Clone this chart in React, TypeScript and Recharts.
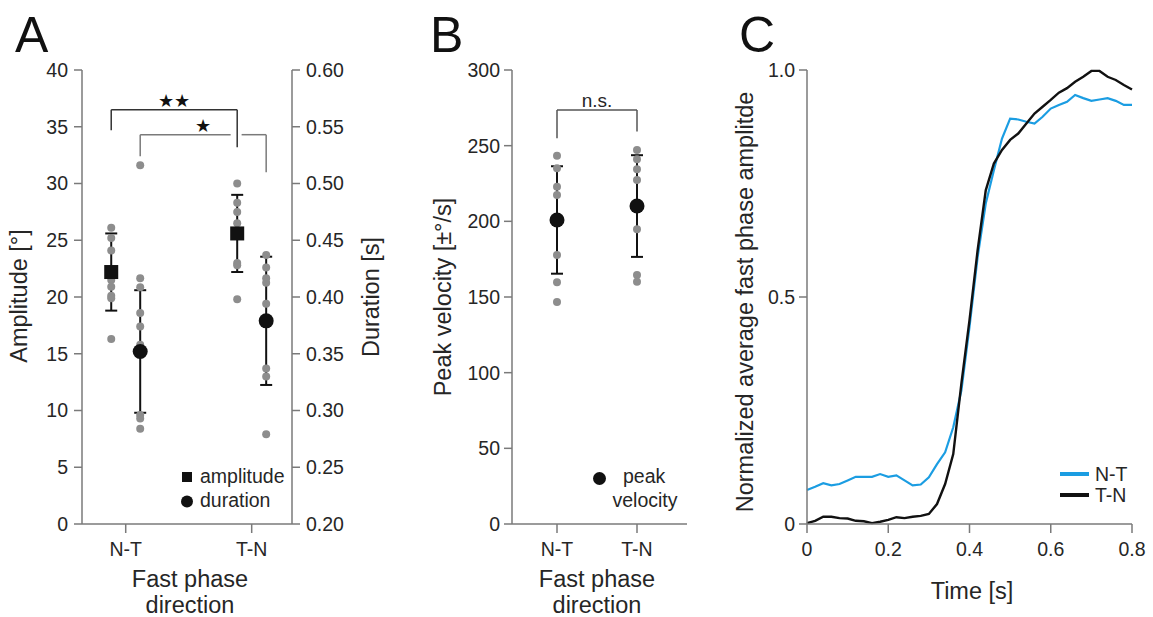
import React from "react";
import {
  ScatterChart,
  Scatter,
  XAxis,
  YAxis,
  ErrorBar,
  ReferenceLine,
  ReferenceDot,
  LineChart,
  Line,
} from "recharts";

const FONT = '"Liberation Sans", Arial, Helvetica, sans-serif';

const directions = ["N-T", "T-N"];

// panel A: amplitude (deg, left axis) and duration (s, right axis)
const ampTicks = [0, 5, 10, 15, 20, 25, 30, 35, 40];
const durTicks = [0.2, 0.25, 0.3, 0.35, 0.4, 0.45, 0.5, 0.55, 0.6];
const ampNT = [26.1, 25.2, 24.1, 21.5, 20.9, 20.1, 19.9, 16.3];
const ampTN = [30.0, 28.3, 27.5, 26.5, 23.0, 22.8, 19.8];
const durNT = [0.516, 0.4165, 0.4085, 0.386, 0.374, 0.358, 0.296, 0.293, 0.284];
const durTN = [0.437, 0.426, 0.4165, 0.4125, 0.394, 0.337, 0.33, 0.279];
const ampMean = [22.2, 25.6];
const ampSd = [3.4, 3.4];
const durMean = [0.352, 0.379];
const durSd = [0.054, 0.0565];

// panel B: peak velocity
const velTicks = [0, 50, 100, 150, 200, 250, 300];
const velNT = [243.4, 235, 222.9, 217.4, 177.7, 159.7, 146.7];
const velTN = [247.1, 241, 234.4, 227.3, 194.7, 164.5, 160.1];
const velMean = [200.9, 210.1];
const velSd = [35.5, 33.6];

// panel C: normalized average fast phase traces
const timeS = [
  0, 0.02, 0.04, 0.06, 0.08, 0.1, 0.12, 0.14, 0.16, 0.18, 0.2, 0.22, 0.24, 0.26,
  0.28, 0.3, 0.32, 0.34, 0.36, 0.38, 0.4, 0.42, 0.44, 0.46, 0.48, 0.5, 0.52, 0.54,
  0.56, 0.58, 0.6, 0.62, 0.64, 0.66, 0.68, 0.7, 0.72, 0.74, 0.76, 0.78, 0.8,
];
const ntTrace = [
  0.075, 0.082, 0.09, 0.085, 0.088, 0.096, 0.104, 0.104, 0.104, 0.11, 0.104, 0.107,
  0.096, 0.085, 0.087, 0.103, 0.132, 0.158, 0.213, 0.294, 0.434, 0.588, 0.706, 0.779,
  0.849, 0.893, 0.891, 0.886, 0.882, 0.897, 0.915, 0.923, 0.93, 0.945, 0.938, 0.932,
  0.935, 0.938, 0.932, 0.923, 0.923,
];
const tnTrace = [
  0.002, 0.007, 0.016, 0.016, 0.013, 0.012, 0.007, 0.006, 0.002, 0.005, 0.009, 0.015,
  0.013, 0.016, 0.018, 0.022, 0.044, 0.088, 0.154, 0.309, 0.449, 0.603, 0.735, 0.794,
  0.824, 0.846, 0.86, 0.882, 0.904, 0.919, 0.934, 0.95, 0.96, 0.974, 0.985, 0.998,
  0.998, 0.985, 0.978, 0.967, 0.957,
];
const timeTicks = [0, 0.2, 0.4, 0.6, 0.8];
const normTicks = [0, 0.5, 1];

const AMP_OFF = -0.115;
const DUR_OFF = 0.115;

const spread = (vals: number[], cat: number, off = 0) => vals.map((v) => ({ x: cat + off, y: v }));
const means = (m: number[], sd: number[], off = 0) => m.map((v, i) => ({ x: i + off, y: v, sd: sd[i] }));

const traceData = timeS.map((t, i) => ({ t, nt: ntTrace[i], tn: tnTrace[i] }));

const axisStroke = { stroke: "#7a7a7a", strokeWidth: 1.5 };
const tickStyle = { fill: "#262626", fontSize: 19.5, fontFamily: FONT };

const GrayDot = (p: any) => <circle cx={p.cx} cy={p.cy} r={4} fill="#8d8d8d" />;
const MeanSquare = (p: any) => <rect x={p.cx - 7} y={p.cy - 7} width={14} height={14} fill="#111" />;
const MeanCircle = (p: any) => <circle cx={p.cx} cy={p.cy} r={7.5} fill="#111" />;

const catAxis = (domain: number[]) => (
  <XAxis
    type="number"
    dataKey="x"
    domain={domain}
    ticks={[0, 1]}
    interval={0}
    tickFormatter={(v: number) => directions[v]}
    height={93}
    tickSize={9}
    tickMargin={9}
    axisLine={axisStroke}
    tickLine={axisStroke}
    tick={tickStyle}
  />
);

function PanelA() {
  const bracketDark = { stroke: "#333", strokeWidth: 1.5 };
  const bracketGray = { stroke: "#7a7a7a", strokeWidth: 1.5 };
  return (
    <ScatterChart width={420} height={617} margin={{ top: 70, right: 0, bottom: 0, left: 0 }}>
      {catAxis([-0.347, 1.32])}
      <YAxis
        yAxisId="amp"
        type="number"
        dataKey="y"
        domain={[0, 40]}
        ticks={ampTicks}
        interval={0}
        width={82}
        tickSize={8}
        tickMargin={6}
        axisLine={axisStroke}
        tickLine={axisStroke}
        tick={tickStyle}
      />
      <YAxis
        yAxisId="dur"
        orientation="right"
        type="number"
        dataKey="y"
        domain={[0.2, 0.6]}
        ticks={durTicks}
        interval={0}
        tickFormatter={(v: number) => v.toFixed(2)}
        width={128}
        tickSize={8}
        tickMargin={6}
        axisLine={axisStroke}
        tickLine={axisStroke}
        tick={tickStyle}
      />
      {/* amplitude N-T vs T-N */}
      <ReferenceLine yAxisId="amp" segment={[{ x: AMP_OFF, y: 34.7 }, { x: AMP_OFF, y: 36.5 }]} {...bracketDark} />
      <ReferenceLine yAxisId="amp" segment={[{ x: AMP_OFF, y: 36.5 }, { x: 1 + AMP_OFF, y: 36.5 }]} {...bracketDark} />
      <ReferenceLine yAxisId="amp" segment={[{ x: 1 + AMP_OFF, y: 36.5 }, { x: 1 + AMP_OFF, y: 33.2 }]} {...bracketDark} />
      <ReferenceDot
        yAxisId="amp"
        x={0.5 + AMP_OFF}
        y={36.5}
        r={0}
        fill="none"
        stroke="none"
        label={{ value: "★★", position: "top", offset: 3, fill: "#111", fontSize: 18 }}
      />
      {/* duration N-T vs T-N */}
      <ReferenceLine yAxisId="amp" segment={[{ x: DUR_OFF, y: 32.4 }, { x: DUR_OFF, y: 34.3 }]} {...bracketGray} />
      <ReferenceLine yAxisId="amp" segment={[{ x: DUR_OFF, y: 34.3 }, { x: 0.833, y: 34.3 }]} {...bracketGray} />
      <ReferenceLine yAxisId="amp" segment={[{ x: 0.92, y: 34.3 }, { x: 1 + DUR_OFF, y: 34.3 }]} {...bracketGray} />
      <ReferenceLine yAxisId="amp" segment={[{ x: 1 + DUR_OFF, y: 34.3 }, { x: 1 + DUR_OFF, y: 31.0 }]} {...bracketGray} />
      <ReferenceDot
        yAxisId="amp"
        x={0.5 + DUR_OFF}
        y={34.3}
        r={0}
        fill="none"
        stroke="none"
        label={{ value: "★", position: "top", offset: 3, fill: "#111", fontSize: 18 }}
      />
      <Scatter yAxisId="amp" data={[...spread(ampNT, 0, AMP_OFF), ...spread(ampTN, 1, AMP_OFF)]} shape={GrayDot} isAnimationActive={false} />
      <Scatter yAxisId="dur" data={[...spread(durNT, 0, DUR_OFF), ...spread(durTN, 1, DUR_OFF)]} shape={GrayDot} isAnimationActive={false} />
      <Scatter yAxisId="amp" data={means(ampMean, ampSd, AMP_OFF)} shape={MeanSquare} isAnimationActive={false}>
        <ErrorBar dataKey="sd" direction="y" width={6} stroke="#111" strokeWidth={2} isAnimationActive={false} />
      </Scatter>
      <Scatter yAxisId="dur" data={means(durMean, durSd, DUR_OFF)} shape={MeanCircle} isAnimationActive={false}>
        <ErrorBar dataKey="sd" direction="y" width={6} stroke="#111" strokeWidth={2} isAnimationActive={false} />
      </Scatter>
    </ScatterChart>
  );
}

function PanelB() {
  return (
    <ScatterChart width={300} height={617} margin={{ top: 70, right: 33, bottom: 0, left: 0 }}>
      {catAxis([-0.5625, 1.625])}
      <YAxis
        type="number"
        dataKey="y"
        domain={[0, 300]}
        ticks={velTicks}
        interval={0}
        width={92}
        tickSize={8}
        tickMargin={4}
        axisLine={axisStroke}
        tickLine={axisStroke}
        tick={tickStyle}
      />
      <ReferenceLine segment={[{ x: 0, y: 254.9 }, { x: 0, y: 273.6 }]} stroke="#555" strokeWidth={1.5} />
      <ReferenceLine segment={[{ x: 0, y: 273.6 }, { x: 1, y: 273.6 }]} stroke="#555" strokeWidth={1.5} />
      <ReferenceLine segment={[{ x: 1, y: 273.6 }, { x: 1, y: 259.3 }]} stroke="#555" strokeWidth={1.5} />
      <ReferenceDot
        x={0.5}
        y={273.6}
        r={0}
        fill="none"
        stroke="none"
        label={{ value: "n.s.", position: "top", offset: 3, fill: "#262626", fontSize: 19, fontFamily: FONT }}
      />
      <Scatter data={[...spread(velNT, 0), ...spread(velTN, 1)]} shape={GrayDot} isAnimationActive={false} />
      <Scatter data={means(velMean, velSd)} shape={MeanCircle} isAnimationActive={false}>
        <ErrorBar dataKey="sd" direction="y" width={6} stroke="#111" strokeWidth={2} isAnimationActive={false} />
      </Scatter>
    </ScatterChart>
  );
}

function PanelC() {
  return (
    <LineChart width={433} height={617} data={traceData} margin={{ top: 70, right: 21, bottom: 0, left: 0 }}>
      <XAxis
        type="number"
        dataKey="t"
        domain={[0, 0.8]}
        ticks={timeTicks}
        interval={0}
        tickFormatter={(v: number) => (v === 0 ? "0" : v.toFixed(1))}
        height={93}
        tickSize={9}
        tickMargin={9}
        axisLine={axisStroke}
        tickLine={axisStroke}
        tick={tickStyle}
      />
      <YAxis
        type="number"
        domain={[0, 1]}
        ticks={normTicks}
        interval={0}
        tickFormatter={(v: number) => (v === 0 ? "0" : v.toFixed(1))}
        width={87}
        tickSize={8}
        tickMargin={4}
        axisLine={axisStroke}
        tickLine={axisStroke}
        tick={tickStyle}
      />
      <Line type="linear" dataKey="nt" stroke="#1b9de2" strokeWidth={2.2} dot={false} isAnimationActive={false} />
      <Line type="linear" dataKey="tn" stroke="#111" strokeWidth={2.4} dot={false} isAnimationActive={false} />
    </LineChart>
  );
}

function Overlay() {
  const t = { fontFamily: FONT, fill: "#262626" };
  const vlabel = (x: number, y: number, s: string) => (
    <text transform={`translate(${x},${y}) rotate(-90)`} textAnchor="middle" fontSize={23.5} {...t}>
      {s}
    </text>
  );
  return (
    <svg width={1153} height={617} style={{ position: "absolute", left: 0, top: 0, pointerEvents: "none" }}>
      <text x={15} y={52} fontSize={50} {...t} fill="#111">A</text>
      <text x={430} y={52} fontSize={50} {...t} fill="#111">B</text>
      <text x={739} y={52} fontSize={50} {...t} fill="#111">C</text>

      {vlabel(27, 296, "Amplitude [°]")}
      {vlabel(379, 297, "Duration [s]")}
      {vlabel(451, 297, "Peak velocity [±°/s]")}
      {vlabel(753, 302, "Normalized average fast phase amplitde")}

      <text x={190} y={587} fontSize={23.5} textAnchor="middle" {...t}>Fast phase</text>
      <text x={190} y={613} fontSize={23.5} textAnchor="middle" {...t}>direction</text>
      <text x={597} y={587} fontSize={23.5} textAnchor="middle" {...t}>Fast phase</text>
      <text x={597} y={613} fontSize={23.5} textAnchor="middle" {...t}>direction</text>
      <text x={972} y={599} fontSize={23.5} textAnchor="middle" {...t}>Time [s]</text>

      {/* legend A */}
      <rect x={182} y={472} width={10} height={10} fill="#111" />
      <text x={200} y={483} fontSize={19.5} {...t}>amplitude</text>
      <circle cx={187} cy={501.5} r={6} fill="#111" />
      <text x={200} y={507} fontSize={19.5} {...t}>duration</text>

      {/* legend B */}
      <circle cx={599.5} cy={478.5} r={6.5} fill="#111" />
      <text x={623} y={483} fontSize={19.5} {...t}>peak</text>
      <text x={612.5} y={507} fontSize={19.5} {...t}>velocity</text>

      {/* legend C */}
      <line x1={1060} y1={474} x2={1089} y2={474} stroke="#1b9de2" strokeWidth={4} />
      <text x={1095} y={481} fontSize={19.5} {...t}>N-T</text>
      <line x1={1060} y1={495} x2={1089} y2={495} stroke="#111" strokeWidth={4} />
      <text x={1095} y={502} fontSize={19.5} {...t}>T-N</text>
    </svg>
  );
}

export default function App() {
  return (
    <div style={{ position: "absolute", left: 0, top: 0, width: 1153, height: 617, background: "#fff", fontFamily: FONT }}>
      <div style={{ position: "absolute", left: 0, top: 0 }}>
        <PanelA />
      </div>
      <div style={{ position: "absolute", left: 420, top: 0 }}>
        <PanelB />
      </div>
      <div style={{ position: "absolute", left: 720, top: 0 }}>
        <PanelC />
      </div>
      <Overlay />
    </div>
  );
}
